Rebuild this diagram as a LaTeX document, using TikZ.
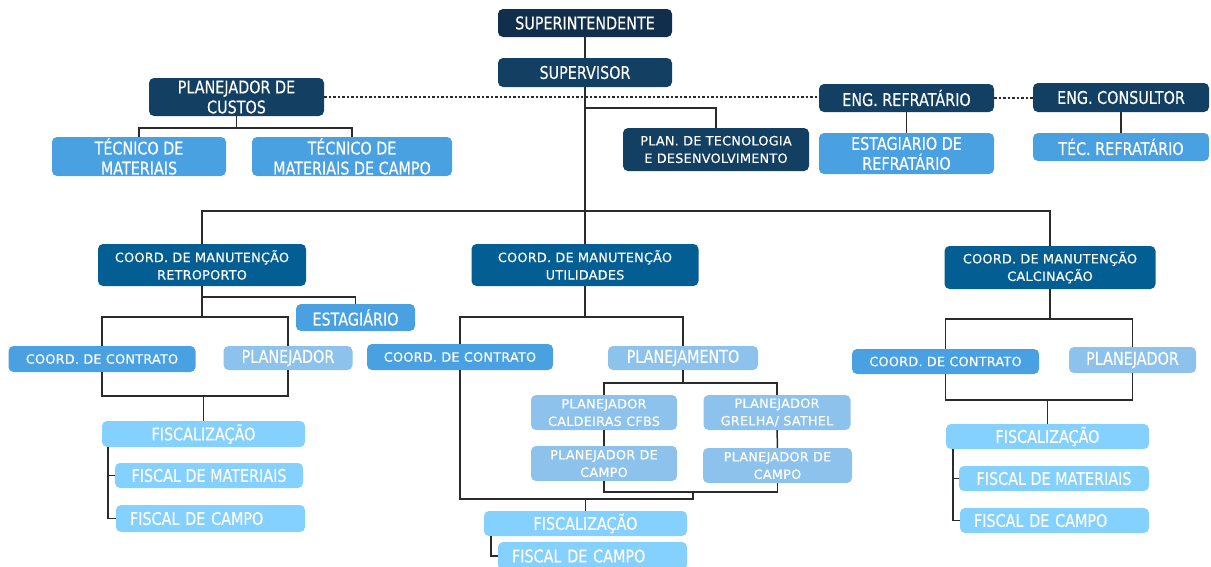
\documentclass[tikz,border=0pt]{standalone}
\usepackage{fontspec}
\newfontfamily\labelfont[FakeStretch=0.82,FakeBold=0.25]{DejaVu Sans}
\newfontfamily\smallfont[FakeBold=0.35,LetterSpace=2]{DejaVu Sans}
\newcommand{\bigtxt}{\labelfont\fontsize{17.5}{20}\selectfont}
\newcommand{\smalltxt}{\smallfont\fontsize{12.8}{17.5}\selectfont}
\definecolor{navyA}{HTML}{112E4D}
\definecolor{navyB}{HTML}{133F63}
\definecolor{coordblue}{HTML}{035E94}
\definecolor{midblue}{HTML}{4AA1E2}
\definecolor{paleblue}{HTML}{8CC2EB}
\definecolor{skyblue}{HTML}{84D0FE}
\definecolor{linegray}{HTML}{2B2B2B}
\tikzset{
  box/.style={rounded corners=5pt, draw=none, text=white, align=center, inner sep=0pt},
  bigbox/.style={box, font=\bigtxt},
  smallbox/.style={box, font=\smalltxt},
  conn/.style={draw=linegray, line width=1.5pt},
  dotconn/.style={draw=linegray, line width=1.3pt, dash pattern=on 2.5pt off 2pt},
}
\begin{document}
\begin{tikzpicture}[x=1pt, y=-1pt]
\useasboundingbox (0,0) rectangle (1211,566);

% --- top of the hierarchy
\node[bigbox, fill=navyA, minimum width=174, minimum height=28] (sup) at (585,23) {SUPERINTENDENTE};
\node[bigbox, fill=navyB, minimum width=174, minimum height=29] (supv) at (585,72.5) {SUPERVISOR};
\node[bigbox, fill=navyB, minimum width=175, minimum height=38] (pcu) at (236.5,97) {PLANEJADOR DE\\CUSTOS};
\node[bigbox, fill=midblue, minimum width=174, minimum height=39] (tm) at (139,156.5) {TÉCNICO DE\\MATERIAIS};
\node[bigbox, fill=midblue, minimum width=200, minimum height=39] (tmc) at (352,156.5) {TÉCNICO DE\\MATERIAIS DE CAMPO};
\node[smallbox, fill=navyB, minimum width=186, minimum height=43] (ptd) at (716,149.5) {PLAN. DE TECNOLOGIA\\E DESENVOLVIMENTO};
\node[bigbox, fill=navyB, minimum width=175, minimum height=28] (engr) at (906.5,98) {ENG. REFRATÁRIO};
\node[bigbox, fill=navyB, minimum width=176, minimum height=29] (engc) at (1121,97.5) {ENG. CONSULTOR};
\node[bigbox, fill=midblue, minimum width=175, minimum height=41] (estr) at (906.5,153.5) {ESTAGIARIO DE\\REFRATÁRIO};
\node[bigbox, fill=midblue, minimum width=176, minimum height=28] (tecr) at (1121,147) {TÉC. REFRATÁRIO};

% --- maintenance coordinators
\node[smallbox, fill=coordblue, minimum width=208, minimum height=42] (cret) at (202,265) {COORD. DE MANUTENÇÃO\\RETROPORTO};
\node[smallbox, fill=coordblue, minimum width=227, minimum height=42] (cut) at (585,265) {COORD. DE MANUTENÇÃO\\UTILIDADES};
\node[smallbox, fill=coordblue, minimum width=211, minimum height=43] (ccal) at (1050,267.5) {COORD. DE MANUTENÇÃO\\CALCINAÇÃO};

% --- Retroporto branch
\node[bigbox, fill=midblue, minimum width=119, minimum height=27] (est) at (355.5,317.5) {ESTAGIÁRIO};
\node[smallbox, fill=midblue, minimum width=187, minimum height=26] (cc1) at (102,359) {COORD. DE CONTRATO};
\node[bigbox, fill=paleblue, minimum width=129, minimum height=24] (pl1) at (288,358) {PLANEJADOR};
\node[bigbox, fill=skyblue, minimum width=203, minimum height=26] (f1) at (203.5,434) {FISCALIZAÇÃO};
\node[bigbox, fill=skyblue, minimum width=188, minimum height=25] (fm1) at (209,475.5) {FISCAL DE MATERIAIS};
\node[bigbox, fill=skyblue, text width=161, inner xsep=14pt, align=left, minimum height=27] (fc1) at (210.5,518.5) {FISCAL DE CAMPO};

% --- Utilidades branch
\node[smallbox, fill=midblue, minimum width=186, minimum height=26] (cc2) at (460,357) {COORD. DE CONTRATO};
\node[bigbox, fill=paleblue, minimum width=150, minimum height=24] (plm) at (683,358) {PLANEJAMENTO};
\node[smallbox, fill=paleblue, minimum width=146, minimum height=35] (pcc) at (604,412.5) {PLANEJADOR\\CALDEIRAS CFBS};
\node[smallbox, fill=paleblue, minimum width=147, minimum height=35] (pgs) at (777,412.5) {PLANEJADOR\\GRELHA/ SATHEL};
\node[smallbox, fill=paleblue, minimum width=146, minimum height=35] (pca) at (604,463.5) {PLANEJADOR DE\\CAMPO};
\node[smallbox, fill=paleblue, minimum width=149, minimum height=35] (pcb) at (777.5,465.5) {PLANEJADOR DE\\CAMPO};
\node[bigbox, fill=skyblue, minimum width=203, minimum height=25] (f2) at (585.5,523.5) {FISCALIZAÇÃO};
\node[bigbox, fill=skyblue, text width=161, inner xsep=14pt, align=left, minimum height=28] (fc2) at (592.5,556) {FISCAL DE CAMPO};

% --- Calcinação branch
\node[smallbox, fill=midblue, minimum width=187, minimum height=25] (cc3) at (945.5,361.5) {COORD. DE CONTRATO};
\node[bigbox, fill=paleblue, minimum width=127, minimum height=26] (pl3) at (1132.5,360) {PLANEJADOR};
\node[bigbox, fill=skyblue, minimum width=203, minimum height=25] (f3) at (1047.5,436.5) {FISCALIZAÇÃO};
\node[bigbox, fill=skyblue, minimum width=190, minimum height=25] (fm3) at (1054,478.5) {FISCAL DE MATERIAIS};
\node[bigbox, fill=skyblue, text width=161, inner xsep=14pt, align=left, minimum height=25] (fc3) at (1054.5,520.5) {FISCAL DE CAMPO};

% --- connectors: top
\draw[conn] (sup) -- (supv);
\draw[conn] (supv.south) -- (cut.north);
\draw[conn] (supv.south |- 0,108) -| (ptd.north);
\draw[conn] (cret.north) -- (cret.north |- 0,211) -- (ccal.north |- 0,211) -- (ccal.north);
\draw[dotconn] (pcu.east) -- (pcu.east -| engr.west);
\draw[dotconn] (engr.east) -- (engr.east -| engc.west);
\draw[conn] (pcu.south) -- (pcu.south |- 0,128);
\draw[conn] (tm.north) -- (tm.north |- 0,128) -| (tmc.north);
\draw[conn] (engr) -- (estr);
\draw[conn] (engc) -- (tecr);

% --- connectors: Retroporto
\draw[conn] (cret.south) -- (cret.south |- 0,317);
\draw[conn] (cret.south |- 0,297) -| (est.north);
\draw[conn] (cc1.north) -- (cc1.north |- 0,317) -| (pl1.north);
\draw[conn] (cc1.south) -- (cc1.south |- 0,396) -| (pl1.south);
\draw[conn] (f1.north) -- (f1.north |- 0,396);
\draw[conn] (f1.south -| 108,0) |- (fc1.west);
\draw[conn] (fm1.west -| 108,0) -- (fm1.west);

% --- connectors: Utilidades
\draw[conn] (cut.south) -- (cut.south |- 0,317);
\draw[conn] (cc2.north) -- (cc2.north |- 0,317) -| (plm.north);
\draw[conn] (plm.south) -- (plm.south |- 0,383);
\draw[conn] (pcc.north) -- (pcc.north |- 0,383) -| (pgs.north);
\draw[conn] (pcc) -- (pca);
\draw[conn] (pgs) -- (pcb);
\draw[conn] (pca.south) -- (pca.south |- 0,492) -| (pcb.south);
\draw[conn] (cc2.south) -- (cc2.south |- 0,499) -| (693,492);
\draw[conn] (f2.north) -- (f2.north |- 0,499);
\draw[conn] (f2.south -| 491,0) |- (fc2.west);

% --- connectors: Calcinação
\draw[conn] (ccal.south) -- (ccal.south |- 0,319);
\draw[conn] (cc3.north) -- (cc3.north |- 0,319) -| (pl3.north);
\draw[conn] (cc3.south) -- (cc3.south |- 0,400) -| (pl3.south);
\draw[conn] (f3.north) -- (f3.north |- 0,400);
\draw[conn] (f3.south -| 953,0) |- (fc3.west);
\draw[conn] (fm3.west -| 953,0) -- (fm3.west);
\end{tikzpicture}
\end{document}
